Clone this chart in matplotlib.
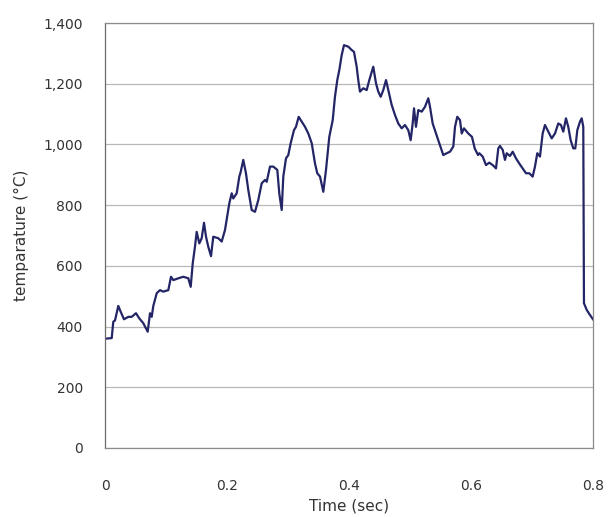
import matplotlib
matplotlib.use("Agg")
import matplotlib.pyplot as plt
from matplotlib.ticker import FuncFormatter

# time (sec) and temperature (°C)
time_sec = [
    0.000, 0.011, 0.0136, 0.0164, 0.0218, 0.0257, 0.0311, 0.0382, 0.0438, 0.0508,
    0.0562, 0.0628, 0.0700, 0.0738, 0.0766, 0.0792, 0.0848, 0.0902, 0.0956, 0.1038,
    0.1082, 0.1120, 0.1202, 0.1284, 0.1366, 0.1405, 0.1438, 0.1475, 0.1503, 0.1546,
    0.1585, 0.1623, 0.1656, 0.1693, 0.1738, 0.1775, 0.1857, 0.1913, 0.1967, 0.2038,
    0.2077, 0.2103, 0.2159, 0.2202, 0.2225, 0.2267, 0.2311, 0.2349, 0.2405, 0.2459,
    0.2513, 0.2569, 0.2623, 0.2651, 0.2705, 0.2759, 0.2825, 0.2857, 0.2897, 0.2923,
    0.2967, 0.3005, 0.3044, 0.3098, 0.3131, 0.3175, 0.3225, 0.3279, 0.3333, 0.3389,
    0.3443, 0.3480, 0.3525, 0.3579, 0.3623, 0.3677, 0.3733, 0.3770, 0.3808, 0.3841,
    0.3880, 0.3918, 0.3989, 0.4044, 0.4082, 0.4126, 0.4152, 0.4180, 0.4234, 0.4290,
    0.4333, 0.4398, 0.4443, 0.4480, 0.4520, 0.4562, 0.4607, 0.4644, 0.4700, 0.4754,
    0.4808, 0.4864, 0.4918, 0.4972, 0.5011, 0.5044, 0.5066, 0.5098, 0.5136, 0.5192,
    0.5246, 0.5300, 0.5328, 0.5372, 0.5426, 0.5480, 0.5546, 0.5602, 0.5656, 0.5710,
    0.5738, 0.5775, 0.5820, 0.5848, 0.5885, 0.5956, 0.6016, 0.6061, 0.6115, 0.6136,
    0.6192, 0.6246, 0.6300, 0.6356, 0.6410, 0.6448, 0.6475, 0.6520, 0.6557, 0.6585,
    0.6639, 0.6684, 0.6738, 0.6792, 0.6848, 0.6902, 0.6956, 0.7011, 0.7049, 0.7087,
    0.7131, 0.7175, 0.7213, 0.7267, 0.7323, 0.7377, 0.7431, 0.7475, 0.7513, 0.7557,
    0.7595, 0.7634, 0.7677, 0.7710, 0.7743, 0.7787, 0.7815, 0.7841, 0.7852, 0.7897,
    0.7951, 0.8000,
]
temp_c = [
    360, 362, 416, 420, 468, 449, 424, 432, 432, 444,
    427, 411, 383, 444, 432, 468, 510, 520, 515, 520,
    564, 553, 559, 564, 559, 531, 608, 663, 712, 674,
    691, 742, 696, 663, 632, 696, 691, 680, 718, 806,
    839, 822, 839, 894, 910, 949, 905, 850, 784, 778,
    817, 872, 883, 877, 927, 927, 916, 839, 784, 894,
    954, 965, 1004, 1047, 1058, 1091, 1075, 1058, 1036, 1004,
    937, 905, 894, 844, 916, 1025, 1080, 1157, 1212, 1245,
    1294, 1327, 1322, 1311, 1305, 1256, 1212, 1174, 1185, 1179,
    1212, 1256, 1201, 1174, 1157, 1179, 1212, 1179, 1130, 1097,
    1069, 1053, 1064, 1047, 1014, 1069, 1119, 1058, 1113, 1108,
    1124, 1152, 1124, 1069, 1036, 1004, 965, 971, 976, 993,
    1058, 1091, 1080, 1036, 1053, 1036, 1025, 987, 965, 971,
    960, 932, 940, 932, 921, 987, 995, 982, 949, 971,
    962, 976, 954, 937, 921, 905, 905, 894, 927, 971,
    960, 1036, 1064, 1042, 1020, 1036, 1069, 1064, 1042, 1086,
    1058, 1014, 987, 987, 1047, 1075, 1086, 1058, 477, 455,
    438, 424,
]

x_ticks = [0, 0.2, 0.4, 0.6, 0.8]
y_ticks = [0, 200, 400, 600, 800, 1000, 1200, 1400]

fig = plt.figure(figsize=(6.08, 5.17), dpi=100)
ax = fig.add_axes([0.1727, 0.1335, 0.8026, 0.822])

ax.plot(time_sec, temp_c, color="#232566", linewidth=1.6)

ax.set_xlim(0, 0.8)
ax.set_ylim(0, 1400)
ax.set_xticks(x_ticks)
ax.set_yticks(y_ticks)
ax.xaxis.set_major_formatter(FuncFormatter(lambda v, _: "0" if v == 0 else f"{v:.1f}"))
ax.yaxis.set_major_formatter(FuncFormatter(lambda v, _: f"{int(v):,}"))

ax.grid(True, axis="y", color="#b8b8b8", linewidth=0.9)
ax.set_axisbelow(True)
for name, spine in ax.spines.items():
    spine.set_color("#8a8a8a" if name != "left" else "#6a6a6a")
    spine.set_linewidth(0.9)

ax.tick_params(axis="x", length=0, pad=22, labelsize=10, labelcolor="#333333")
ax.tick_params(axis="y", length=0, pad=16, labelsize=10, labelcolor="#333333")

ax.set_xlabel("Time (sec)", fontsize=11, color="#333333", labelpad=4)
ax.set_ylabel("temparature (°C)", fontsize=11, color="#333333", labelpad=10)

fig.savefig("out.png", dpi=100)
